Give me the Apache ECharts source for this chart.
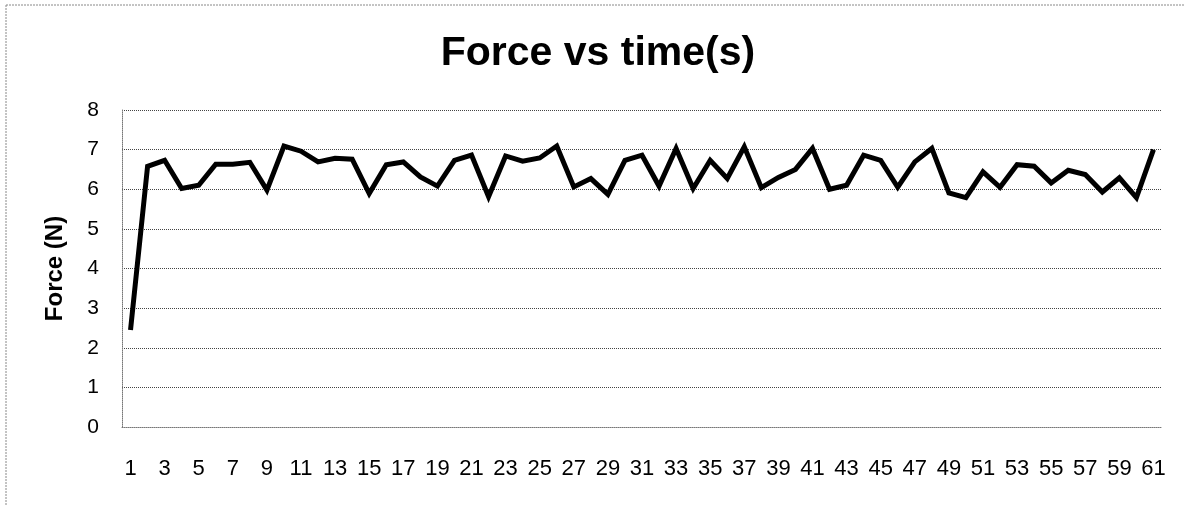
<!DOCTYPE html>
<html>
<head>
<meta charset="utf-8">
<script src="https://cdn.jsdelivr.net/npm/echarts@6/dist/echarts.min.js"></script>
<style>html,body{margin:0;padding:0;background:#fff;}#c{width:1184px;height:506px;}</style>
</head>
<body>
<div id="c"></div>
<script>
const timeLabels = [];
for (let i = 1; i <= 61; i++) timeLabels.push(String(i));
const forceValues = [
  2.45, 6.58, 6.73, 6.02, 6.10, 6.63, 6.63, 6.68, 5.98, 7.09,
  6.96, 6.69, 6.78, 6.76, 5.89, 6.62, 6.69, 6.31, 6.08, 6.73,
  6.86, 5.81, 6.84, 6.71, 6.79, 7.09, 6.06, 6.27, 5.87, 6.73,
  6.86, 6.08, 7.03, 6.02, 6.73, 6.27, 7.07, 6.04, 6.30, 6.50,
  7.03, 6.00, 6.10, 6.86, 6.73, 6.05, 6.69, 7.03, 5.91, 5.79,
  6.44, 6.05, 6.62, 6.58, 6.16, 6.48, 6.37, 5.93, 6.29, 5.79,
  7.00
];
const titleText = 'Force vs time(s)';
const yAxisName = 'Force (N)';
const FONT = "'Liberation Sans', Arial, sans-serif";

const chart = echarts.init(document.getElementById('c'), null, {renderer: 'canvas'});
chart.setOption({
  animation: false,
  backgroundColor: '#fff',
  title: {
    text: titleText,
    left: 593, top: 28, textAlign: 'center',
    textStyle: {fontFamily: FONT, fontSize: 41, fontWeight: 'bold', color: '#000'}
  },
  grid: {left: 122, right: 22, top: 110, bottom: 79, containLabel: false},
  xAxis: {
    type: 'category',
    data: timeLabels,
    boundaryGap: true,
    axisLine: {show: true, lineStyle: {color: '#777', type: 'dotted', width: 1}},
    axisTick: {show: false},
    axisLabel: {interval: 1, margin: 31, fontFamily: FONT, fontSize: 22, color: '#000'},
    splitLine: {show: false}
  },
  yAxis: {
    type: 'value',
    min: 0, max: 8, interval: 1,
    name: yAxisName,
    nameLocation: 'middle',
    nameRotate: 90,
    nameGap: 55,
    nameTextStyle: {fontFamily: FONT, fontSize: 24, fontWeight: 'bold', color: '#000'},
    axisLine: {show: true, lineStyle: {color: '#777', type: 'dotted', width: 1}},
    axisTick: {show: false},
    axisLabel: {margin: 23, fontFamily: FONT, fontSize: 21, color: '#000'},
    splitLine: {show: true, lineStyle: {color: '#444', type: 'dotted', width: 1}}
  },
  graphic: [
    {type: 'line', shape: {x1: 6, y1: 5, x2: 1184, y2: 5}, style: {stroke: '#888', lineWidth: 1, lineDash: [2, 1]}},
    {type: 'line', shape: {x1: 6, y1: 5, x2: 6, y2: 506}, style: {stroke: '#888', lineWidth: 1, lineDash: [2, 1]}}
  ],
  series: [{
    type: 'line',
    data: forceValues,
    showSymbol: false,
    symbol: 'none',
    lineStyle: {color: '#000', width: 5, join: 'miter'},
    itemStyle: {color: '#000'}
  }]
});
</script>
</body>
</html>
